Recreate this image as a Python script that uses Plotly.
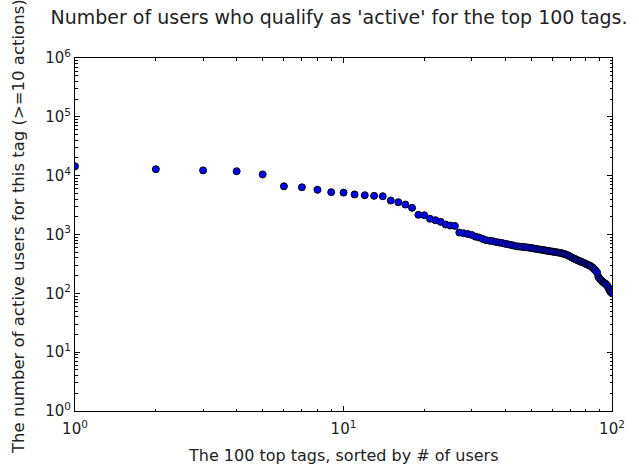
import plotly.graph_objects as go

# Tag rank (1 = most users) and number of active users (>= 10 actions) per tag
ranks = list(range(1, 101))
active_users = [
    14400, 12900, 12300, 11900, 10500, 6600, 6350, 5750, 5250, 5150,
    4800, 4650, 4540, 4470, 3780, 3540, 3230, 2840, 2160, 2120,
    1850, 1750, 1640, 1480, 1420, 1400, 1080, 1050, 1020, 985,
    920, 890, 840, 800, 785, 770, 745, 730, 715, 695,
    680, 665, 650, 632, 625, 618, 612, 606, 598, 590,
    580, 570, 562, 555, 548, 540, 532, 525, 518, 512,
    506, 500, 494, 488, 480, 470, 460, 450, 435, 420,
    405, 392, 382, 370, 360, 350, 342, 335, 325, 315,
    308, 300, 293, 283, 270, 255, 243, 225, 190, 178,
    168, 160, 153, 148, 143, 135, 125, 113, 105, 100,
]

title_text = "Number of users who qualify as 'active' for the top 100 tags."
x_label = "The 100 top tags, sorted by # of users"
y_label = "The number of active users for this tag (>=10 actions)"

x_major = [1, 10, 100]
y_major = [10 ** k for k in range(0, 7)]
x_minor = [m * 10 ** k for k in range(0, 2) for m in range(2, 10)]
y_minor = [m * 10 ** k for k in range(0, 6) for m in range(2, 10)]


def sup_labels(vals):
    return ["10<sup>%d</sup>" % (len(str(v)) - 1) for v in vals]


FONT = "DejaVu Sans"
TEXT = "#222222"

# plot-area geometry in pixels (used to place the axis labels)
W, H = 639, 468
L, R, T, B = 75, 27, 58, 57
plot_w = W - L - R
plot_h = H - T - B

fig = go.Figure(
    go.Scatter(
        x=ranks,
        y=active_users,
        mode="markers",
        marker=dict(size=7, color="#0000ff", line=dict(color="black", width=1)),
        cliponaxis=True,
    )
)

axis_common = dict(
    type="log",
    showgrid=False,
    zeroline=False,
    showline=True,
    linecolor="black",
    linewidth=1,
    mirror="allticks",
    ticks="inside",
    ticklen=5,
    tickcolor="black",
    tickfont=dict(family=FONT, size=15, color=TEXT),
)

fig.update_layout(
    width=W,
    height=H,
    margin=dict(l=L, r=R, t=T, b=B),
    paper_bgcolor="white",
    plot_bgcolor="white",
    showlegend=False,
    title=dict(
        text=title_text,
        font=dict(family=FONT, size=19, color=TEXT),
        x=339 / W,
        xanchor="center",
        y=1 - 17 / H,
        yanchor="middle",
    ),
    xaxis=dict(
        axis_common,
        range=[0, 2],
        tickvals=x_major,
        ticktext=sup_labels(x_major),
        ticklabelstandoff=4,
        minor=dict(tickvals=x_minor, ticks="inside", ticklen=2.5, tickcolor="black"),
    ),
    yaxis=dict(
        axis_common,
        range=[0, 6],
        tickvals=y_major,
        ticktext=sup_labels(y_major),
        minor=dict(tickvals=y_minor, ticks="inside", ticklen=2.5, tickcolor="black"),
    ),
    annotations=[
        dict(
            text=x_label,
            xref="paper", yref="paper",
            x=(343.5 - L) / plot_w, y=(H - B - 455) / plot_h,
            xanchor="center", yanchor="middle",
            showarrow=False,
            font=dict(family=FONT, size=16, color=TEXT),
        ),
        dict(
            text=y_label,
            xref="paper", yref="paper",
            x=(18 - L) / plot_w, y=(H - B - 227) / plot_h,
            xanchor="center", yanchor="middle",
            textangle=-90,
            showarrow=False,
            font=dict(family=FONT, size=16.5, color=TEXT),
        ),
    ],
)

fig.write_html("out.html")
